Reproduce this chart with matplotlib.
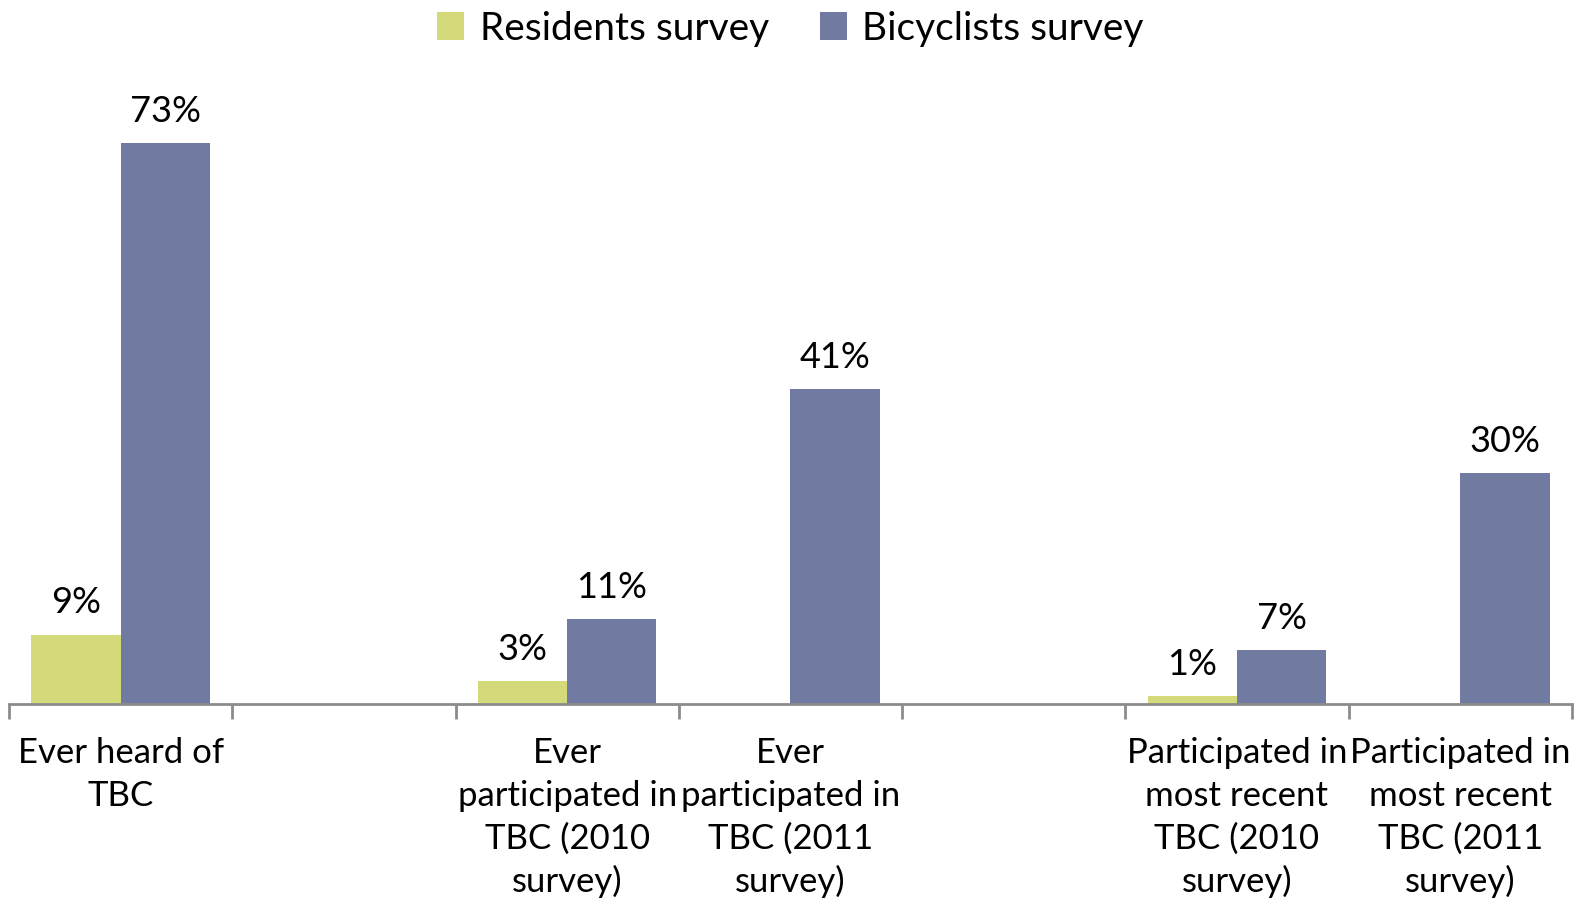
import numpy as np
import matplotlib
matplotlib.use("Agg")
import matplotlib.pyplot as plt

plt.rcParams["font.family"] = ["Lato", "DejaVu Sans"]

# Data (fractions), None = no bar in that slot
categories = [
    "Ever heard of\nTBC",
    "",
    "Ever\nparticipated in\nTBC (2010\nsurvey)",
    "Ever\nparticipated in\nTBC (2011\nsurvey)",
    "",
    "Participated in\nmost recent\nTBC (2010\nsurvey)",
    "Participated in\nmost recent\nTBC (2011\nsurvey)",
]
residents = [0.09, None, 0.03, None, None, 0.01, None]
bicyclists = [0.73, None, 0.11, 0.41, None, 0.07, 0.30]
series_names = ["Residents survey", "Bicyclists survey"]

GREEN = "#D4D97A"
BLUE = "#717AA0"

fig = plt.figure(figsize=(15.75, 9), dpi=100)
ax = fig.add_axes([0.0057, 0.2178, 0.9923, 0.683])

x = np.arange(len(categories))
w = 0.4

def draw(vals, offset, color, label):
    xs = [xi + offset for xi, v in zip(x, vals) if v is not None]
    vs = [v for v in vals if v is not None]
    bars = ax.bar(xs, vs, width=w, color=color, label=label, align="edge")
    for b, v in zip(bars, vs):
        ax.text(b.get_x() + b.get_width() / 2, v + 0.02, f"{v:.0%}",
                ha="center", va="bottom", fontsize=26)

draw(residents, -w, GREEN, series_names[0])
draw(bicyclists, 0, BLUE, series_names[1])

ax.set_xlim(-0.5, len(categories) - 0.5)
ax.set_ylim(0, 0.8)
ax.set_yticks([])
for s in ["top", "right", "left"]:
    ax.spines[s].set_visible(False)
ax.spines["bottom"].set_color("#8c8c8c")
ax.spines["bottom"].set_linewidth(2)

ax.set_xticks(np.arange(len(categories) + 1) - 0.5, minor=True)
ax.tick_params(axis="x", which="minor", length=11, width=2, color="#8c8c8c", direction="out")
ax.set_xticks(x)
ax.set_xticklabels(categories, fontsize=25, linespacing=1.4, va="top")
ax.tick_params(axis="x", which="major", length=0, pad=24)

ax.legend(loc="upper center", bbox_to_anchor=(0.5, 1.185), ncol=2, frameon=False,
          fontsize=28, handlelength=0.7, handleheight=0.7, columnspacing=1.3,
          handletextpad=0.4)

fig.savefig("out.png", dpi=100)
